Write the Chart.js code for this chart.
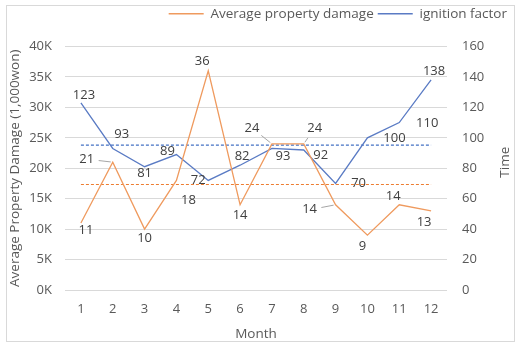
<!DOCTYPE html>
<html>
<head>
<meta charset="utf-8">
<script src="https://cdn.jsdelivr.net/npm/chart.js@4.4.1/dist/chart.umd.min.js"></script>
<style>
  html, body { margin: 0; padding: 0; background: #fff; }
</style>
</head>
<body>
<canvas id="fireChart" width="521" height="348"></canvas>
<script>
// monthly figures
const months = ['1', '2', '3', '4', '5', '6', '7', '8', '9', '10', '11', '12'];
const damage = [11000, 21000, 10000, 18000, 36000, 14000, 24000, 24000, 14000, 9000, 14000, 13000]; // 1,000 won
const ignition = [123, 93, 81, 89, 72, 82, 93, 92, 70, 100, 110, 138];

// where each value label sits relative to its point, and which ones get a leader line
const damageLabelPos = [[5, 7], [-26, -3], [0, 9], [12, 20], [-6, -10], [0, 11], [-20, -16], [11, -16], [-26, 5], [-5, 11], [-6, -8], [-7, 11]];
const damageLeader = [false, true, false, false, false, false, true, true, true, false, false, false];
const ignitionLabelPos = [[3, -8], [9, -14], [0, 7], [-9, -3], [-10, 0], [2, -9], [11, 8], [17, 5], [23, 0], [27, 0], [28, 1], [3, -9]];

const ORANGE = '#EF9A5E';
const BLUE = '#5A7BC4';
const FONT = '"Open Sans", sans-serif';

function mean(arr) {
    return arr.reduce((a, b) => a + b, 0) / arr.length;
}

const damageAvg = months.map(() => mean(damage));
const ignitionAvg = months.map(() => mean(ignition));

// extra room under the legend
const legendGap = {
    id: 'legendGap',
    beforeInit(chart) {
        const fit = chart.legend.fit;
        chart.legend.fit = function () {
            fit.bind(chart.legend)();
            this.height += 16;
        };
    }
};

// frame + axis titles
const frame = {
    id: 'frame',
    beforeDraw(chart) {
        const ctx = chart.ctx;
        ctx.save();
        ctx.fillStyle = '#fff';
        ctx.fillRect(0, 0, chart.width, chart.height);
        ctx.strokeStyle = '#D9D9D9';
        ctx.lineWidth = 1;
        ctx.strokeRect(6.5, 5.5, 508, 336);
        ctx.restore();
    },
    afterDraw(chart) {
        const ctx = chart.ctx;
        const area = chart.chartArea;
        const midY = (area.top + area.bottom) / 2;
        ctx.save();
        ctx.fillStyle = '#595959';
        ctx.font = '13.5px ' + FONT;
        ctx.textAlign = 'center';
        ctx.textBaseline = 'middle';
        ctx.translate(15, midY);
        ctx.rotate(-Math.PI / 2);
        ctx.fillText('Average Property Damage (1,000won)', 0, 0);
        ctx.restore();

        ctx.save();
        ctx.fillStyle = '#595959';
        ctx.font = '13.5px ' + FONT;
        ctx.textAlign = 'center';
        ctx.textBaseline = 'middle';
        ctx.translate(505, midY - 6);
        ctx.rotate(-Math.PI / 2);
        ctx.fillText('Time', 0, 0);
        ctx.restore();
    }
};

// value labels next to the points
const pointLabels = {
    id: 'pointLabels',
    afterDatasetsDraw(chart) {
        const ctx = chart.ctx;
        ctx.save();
        ctx.font = '13px ' + FONT;
        ctx.fillStyle = '#404040';
        ctx.textAlign = 'center';
        ctx.textBaseline = 'middle';

        const dmgMeta = chart.getDatasetMeta(0);
        dmgMeta.data.forEach((pt, i) => {
            const lx = pt.x + damageLabelPos[i][0];
            const ly = pt.y + damageLabelPos[i][1];
            if (damageLeader[i]) {
                const dx = pt.x - lx, dy = pt.y - ly;
                const len = Math.sqrt(dx * dx + dy * dy);
                const ux = dx / len, uy = dy / len;
                ctx.beginPath();
                ctx.strokeStyle = '#A6A6A6';
                ctx.lineWidth = 1;
                ctx.moveTo(lx + ux * 12, ly + uy * 12);
                ctx.lineTo(pt.x - ux * 2, pt.y - uy * 2);
                ctx.stroke();
            }
            ctx.fillText(String(damage[i] / 1000), lx, ly);
        });

        const ignMeta = chart.getDatasetMeta(1);
        ignMeta.data.forEach((pt, i) => {
            ctx.fillText(String(ignition[i]), pt.x + ignitionLabelPos[i][0], pt.y + ignitionLabelPos[i][1]);
        });
        ctx.restore();
    }
};

const ctx = document.getElementById('fireChart').getContext('2d');
const chart = new Chart(ctx, {
    type: 'line',
    data: {
        labels: months,
        datasets: [{
            label: 'Average property damage',
            data: damage,
            borderColor: ORANGE,
            backgroundColor: ORANGE,
            borderWidth: 1.3,
            pointRadius: 0,
            tension: 0,
            yAxisID: 'y'
        }, {
            label: 'ignition factor',
            data: ignition,
            borderColor: BLUE,
            backgroundColor: BLUE,
            borderWidth: 1.3,
            pointRadius: 0,
            tension: 0,
            yAxisID: 'y1'
        }, {
            label: 'damage average',
            data: damageAvg,
            borderColor: '#ED7D31',
            borderWidth: 1.2,
            borderDash: [3, 2],
            pointRadius: 0,
            yAxisID: 'y'
        }, {
            label: 'ignition average',
            data: ignitionAvg,
            borderColor: '#4472C4',
            borderWidth: 1.2,
            borderDash: [3, 2],
            pointRadius: 0,
            yAxisID: 'y1'
        }]
    },
    options: {
        responsive: false,
        animation: false,
        layout: { padding: { top: 3, right: 10, bottom: 0, left: 0 } },
        plugins: {
            legend: {
                position: 'top',
                align: 'end',
                labels: {
                    usePointStyle: true,
                    pointStyleWidth: 35,
                    pointStyle: 'line',
                    padding: 4,
                    color: '#595959',
                    font: { family: FONT, size: 13.5 },
                    filter: item => item.datasetIndex < 2
                }
            },
            tooltip: { enabled: false }
        },
        scales: {
            x: {
                offset: true,
                grid: { display: false, drawTicks: false },
                border: { display: false },
                ticks: { padding: 11, color: '#595959', font: { family: FONT, size: 13 } },
                title: {
                    display: true,
                    text: 'Month',
                    color: '#595959',
                    font: { family: FONT, size: 13.5 },
                    padding: { top: 0, bottom: 6 }
                },
                afterFit: s => { s.height = 58; }
            },
            y: {
                position: 'left',
                min: 0,
                max: 40000,
                ticks: {
                    stepSize: 5000,
                    padding: 13,
                    color: '#595959',
                    font: { family: FONT, size: 13 },
                    callback: v => (v / 1000) + 'K'
                },
                grid: { color: '#D9D9D9', drawTicks: false },
                border: { display: false },
                afterFit: s => { s.width = 65; }
            },
            y1: {
                position: 'right',
                min: 0,
                max: 160,
                ticks: {
                    stepSize: 20,
                    padding: 15,
                    color: '#595959',
                    font: { family: FONT, size: 13 }
                },
                grid: { display: false, drawTicks: false },
                border: { display: false },
                afterFit: s => { s.width = 64; }
            }
        }
    },
    plugins: [legendGap, frame, pointLabels]
});
</script>
</body>
</html>
